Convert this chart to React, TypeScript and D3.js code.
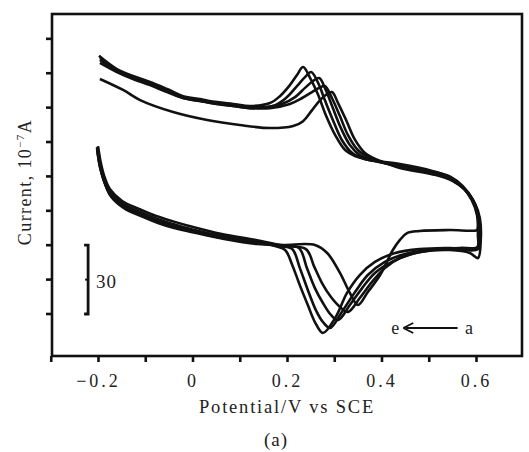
import * as d3 from "d3";

// potential (V vs SCE), current (10^-7 A)
type Pt = [number, number];

const xTicks = [-0.3, -0.2, -0.1, 0, 0.1, 0.2, 0.3, 0.4, 0.5, 0.6];
const xTickLabels = [
  { v: -0.2, t: "\u22120.2" },
  { v: 0, t: "0" },
  { v: 0.2, t: "0.2" },
  { v: 0.4, t: "0.4" },
  { v: 0.6, t: "0.6" },
];
const yTicks = [15, 30, 45, 60, 75, 90, 105, 120, 135];

// lower branches (increasing potential)
const lowerA: Pt[] = [[-0.201,86.5],[-0.195,78.7],[-0.188,73.0],[-0.174,66.4],[-0.146,61.2],[-0.110,57.7],[-0.074,54.7],[-0.040,52.5],[-0.004,50.8],[0.066,47.7],[0.135,45.5],[0.190,45.1],[0.258,45.1],[0.284,41.6],[0.311,32.9],[0.332,24.2],[0.349,18.9],[0.370,24.6],[0.396,32.0],[0.423,42.9],[0.438,47.3],[0.453,50.3],[0.480,51.2],[0.544,51.6],[0.601,51.6]];
const lowerB: Pt[] = [[-0.203,86.9],[-0.197,79.5],[-0.190,73.9],[-0.176,67.3],[-0.148,61.7],[-0.112,58.2],[-0.076,55.1],[-0.042,52.9],[-0.006,51.2],[0.063,48.1],[0.135,46.0],[0.184,44.6],[0.239,43.3],[0.256,35.9],[0.273,28.5],[0.292,22.4],[0.311,18.1],[0.328,15.9],[0.353,22.0],[0.379,29.0],[0.406,35.1],[0.438,39.4],[0.480,42.0],[0.544,42.9],[0.586,41.6],[0.603,39.4]];
const lowerC: Pt[] = [[-0.201,88.2],[-0.195,80.8],[-0.188,75.2],[-0.176,69.5],[-0.150,64.3],[-0.114,60.8],[-0.078,57.7],[-0.044,55.5],[-0.008,53.4],[0.061,49.9],[0.133,47.3],[0.184,45.1],[0.224,43.8],[0.241,35.1],[0.258,26.3],[0.275,19.8],[0.292,14.6],[0.307,12.4],[0.332,18.9],[0.358,26.3],[0.385,32.9],[0.421,37.7],[0.463,41.2],[0.523,43.3],[0.565,43.8],[0.603,44.2]];
const lowerD: Pt[] = [[-0.203,87.4],[-0.197,79.1],[-0.188,73.4],[-0.174,67.3],[-0.146,62.1],[-0.110,58.6],[-0.074,55.5],[-0.040,53.4],[-0.004,51.2],[0.066,48.1],[0.135,46.4],[0.184,44.6],[0.210,43.3],[0.226,35.1],[0.243,25.5],[0.260,16.7],[0.275,11.5],[0.290,8.9],[0.315,15.9],[0.343,24.6],[0.370,32.0],[0.406,37.7],[0.449,41.2],[0.502,42.9],[0.554,43.3],[0.603,43.3]];
const lowerE: Pt[] = [[-0.203,87.8],[-0.197,80.0],[-0.190,74.3],[-0.176,68.2],[-0.148,63.0],[-0.112,59.5],[-0.076,56.4],[-0.042,54.2],[-0.006,52.1],[0.063,49.0],[0.135,46.8],[0.174,44.6],[0.195,42.9],[0.210,36.4],[0.226,27.6],[0.243,18.9],[0.258,11.5],[0.275,6.7],[0.301,13.3],[0.326,24.2],[0.353,32.0],[0.385,37.7],[0.428,41.6],[0.480,43.3],[0.544,43.8],[0.601,43.8]];

// upper branches (decreasing potential, from the 0.6 V turn)
const upperA: Pt[] = [[0.603,52.5],[0.603,58.6],[0.593,64.7],[0.571,70.8],[0.546,74.7],[0.510,76.9],[0.438,80.0],[0.417,80.4],[0.392,82.1],[0.364,85.2],[0.343,90.9],[0.324,99.6],[0.307,107.0],[0.294,111.8],[0.281,110.5],[0.269,108.3],[0.252,103.9],[0.233,99.1],[0.212,97.0],[0.163,96.1],[0.099,97.4],[0.030,99.6],[-0.042,103.1],[-0.112,108.3],[-0.148,112.7],[-0.197,117.5]];
const upperB: Pt[] = [[0.609,47.3],[0.607,56.9],[0.597,63.0],[0.576,69.1],[0.550,73.0],[0.514,75.6],[0.438,78.7],[0.400,81.3],[0.375,83.0],[0.349,86.5],[0.328,93.0],[0.311,101.3],[0.294,109.2],[0.279,114.4],[0.267,113.6],[0.252,111.8],[0.231,109.2],[0.205,106.6],[0.163,104.8],[0.121,104.8],[0.085,105.7],[0.051,106.6],[0.015,107.9],[-0.021,109.2],[-0.055,111.8],[-0.091,114.8],[-0.127,117.5],[-0.161,120.5],[-0.197,124.5]];
const upperC: Pt[] = [[0.607,48.1],[0.605,57.3],[0.595,63.4],[0.574,69.5],[0.548,73.4],[0.512,76.0],[0.438,79.1],[0.396,81.3],[0.379,82.1],[0.353,84.3],[0.332,88.7],[0.313,96.1],[0.296,104.8],[0.281,112.7],[0.267,117.9],[0.254,116.6],[0.237,113.6],[0.216,109.6],[0.188,106.6],[0.152,105.3],[0.121,105.3],[0.085,106.1],[0.051,107.0],[0.015,108.3],[-0.021,109.6],[-0.055,112.7],[-0.091,115.7],[-0.127,118.3],[-0.161,121.4],[-0.197,126.6]];
const upperD: Pt[] = [[0.605,48.6],[0.603,57.7],[0.593,64.3],[0.571,70.4],[0.546,74.3],[0.508,76.9],[0.438,79.5],[0.385,81.7],[0.364,82.6],[0.337,85.2],[0.315,90.9],[0.296,99.6],[0.279,108.3],[0.265,115.7],[0.250,120.5],[0.237,118.3],[0.220,114.4],[0.199,109.6],[0.174,106.1],[0.121,104.8],[0.085,105.7],[0.051,106.6],[0.015,107.9],[-0.021,109.2],[-0.055,112.2],[-0.091,115.3],[-0.127,117.9],[-0.161,120.9],[-0.197,125.8]];
const upperE: Pt[] = [[0.603,49.4],[0.601,58.2],[0.590,64.7],[0.569,70.8],[0.544,74.7],[0.508,77.3],[0.438,80.4],[0.375,82.1],[0.343,83.9],[0.322,86.5],[0.301,93.0],[0.281,101.8],[0.265,110.5],[0.248,117.9],[0.233,122.7],[0.220,119.2],[0.205,114.8],[0.184,110.0],[0.163,107.0],[0.121,105.7],[0.085,106.6],[0.051,107.4],[0.015,108.7],[-0.021,110.0],[-0.055,113.1],[-0.091,116.2],[-0.127,118.8],[-0.161,121.8],[-0.199,127.6]];

const curves = [
  { name: "a", lower: lowerA, upper: upperA },
  { name: "b", lower: lowerB, upper: upperB },
  { name: "c", lower: lowerC, upper: upperC },
  { name: "d", lower: lowerD, upper: upperD },
  { name: "e", lower: lowerE, upper: upperE },
];

const scaleBar = [15, 45];

export default function App() {
  const W = 529, H = 452;
  const left = 52, right = 522, top = 14, bottom = 356;
  const x = d3.scaleLinear().domain([-0.3, 0.7]).range([51.25, 523.75]);
  const y = d3.scaleLinear().domain([-3.32, 145.83]).range([bottom, top]);

  const line = d3.line<Pt>()
    .x(d => x(d[0]))
    .y(d => y(d[1]))
    .curve(d3.curveCatmullRom.alpha(0.5));

  const txt = { fontFamily: '"Liberation Serif", "Times New Roman", Times, serif', fill: "#222" };
  const sbX = x(-0.222);

  return (
    <svg width={W} height={H} style={{ position: "absolute", left: 0, top: 0, background: "#fff" }}>
      <rect x={left} y={top} width={right - left} height={bottom - top} fill="none" stroke="#111" strokeWidth={2.6} />

      {xTicks.map(t => (
        <line key={t} x1={x(t)} x2={x(t)} y1={bottom} y2={bottom + 6} stroke="#111" strokeWidth={2.6} />
      ))}
      {yTicks.map(t => (
        <line key={t} x1={left - 6} x2={left} y1={y(t)} y2={y(t)} stroke="#111" strokeWidth={2.6} />
      ))}

      {xTickLabels.map(d => (
        <text key={d.v} x={x(d.v)} y={387} textAnchor="middle" style={txt} fontSize={18} letterSpacing={3}>
          {d.t}
        </text>
      ))}

      <text x={287} y={413} textAnchor="middle" style={txt} fontSize={18.5} letterSpacing={1.8}>
        Potential/V vs SCE
      </text>
      <text x={276} y={446} textAnchor="middle" style={txt} fontSize={19} letterSpacing={1}>(a)</text>

      <text transform="translate(31,182) rotate(-90)" textAnchor="middle" style={txt} fontSize={18} letterSpacing={1.4}>
        Current, 10<tspan dy={-7} fontSize={11}>−7</tspan><tspan dy={7}>A</tspan>
      </text>

      {curves.map(c => (
        <path key={c.name} d={line([...c.lower, ...c.upper]) || ""} fill="none" stroke="#111" strokeWidth={2.6} strokeLinejoin="round" />
      ))}

      {/* scale bar */}
      <path
        d={`M${sbX - 4},${y(scaleBar[1])}H${sbX}V${y(scaleBar[0])}H${sbX - 4}`}
        fill="none" stroke="#111" strokeWidth={2.8}
      />
      <line x1={sbX - 3} x2={sbX} y1={y(30)} y2={y(30)} stroke="#111" strokeWidth={2} />
      <text x={sbX + 8} y={y(30) + 8} style={txt} fontSize={19} letterSpacing={1}>30</text>

      {/* direction annotation */}
      <text x={x(0.428)} y={334} textAnchor="middle" style={txt} fontSize={18}>e</text>
      <line x1={x(0.45)} x2={x(0.56)} y1={328} y2={328} stroke="#111" strokeWidth={1.8} />
      <path d={`M${x(0.445)},328 l10,-5 M${x(0.445)},328 l10,5`} stroke="#111" strokeWidth={1.8} fill="none" />
      <text x={x(0.584)} y={334} textAnchor="middle" style={txt} fontSize={18}>a</text>
    </svg>
  );
}
